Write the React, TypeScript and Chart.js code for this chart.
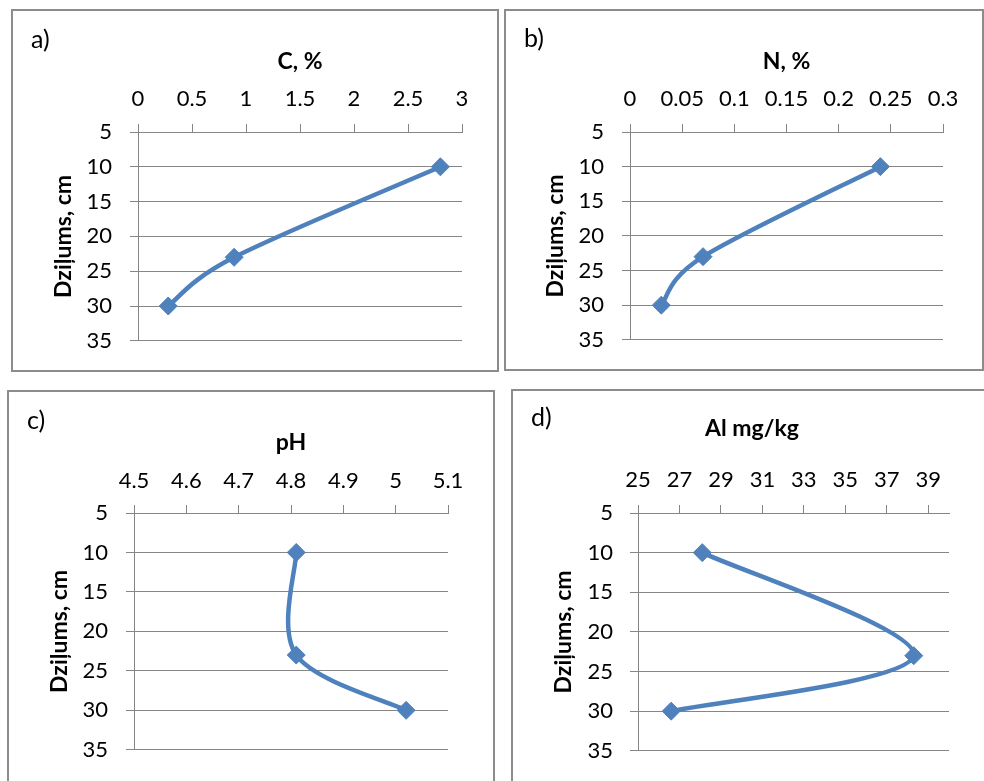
import React, { useEffect, useRef } from "react";
import { Chart, registerables } from "chart.js";

Chart.register(...registerables);

// ---------- data ----------
const depthCm = [10, 23, 30];
const carbonPct = [2.8, 0.89, 0.28];
const nitrogenPct = [0.24, 0.07, 0.03];
const phValues = [4.81, 4.81, 5.02];
const aluminiumMgKg = [28.1, 38.3, 26.6];

const depthTicks = [5, 10, 15, 20, 25, 30, 35];
const carbonTicks = [0, 0.5, 1, 1.5, 2, 2.5, 3];
const nitrogenTicks = [0, 0.05, 0.1, 0.15, 0.2, 0.25, 0.3];
const phTicks = [4.5, 4.6, 4.7, 4.8, 4.9, 5, 5.1];
const aluminiumTicks = [25, 27, 29, 31, 33, 35, 37, 39];

const yTitle = "Dziļums, cm";

// ---------- styles ----------
const BLUE = "#4F81BD";
const GRID = "#868686";
const FONT = "Lato, 'Open Sans', sans-serif";
const SMOOTH = 1 / 6;

// Excel-like smoothing (uniform Catmull-Rom) applied to the control points Chart.js computed
const excelSmooth = {
  id: "excelSmooth",
  beforeDatasetDraw(chart: any, args: any) {
    const meta = args.meta;
    const line = meta.dataset;
    if (!line || !line.updateControlPoints) return;
    line.updateControlPoints(chart.chartArea, meta.iScale ? meta.iScale.axis : "x");
    const pts = meta.data;
    const n = pts.length;
    if (n < 2) return;
    for (let i = 0; i < n; i++) {
      const prev = pts[Math.max(0, i - 1)];
      const next = pts[Math.min(n - 1, i + 1)];
      const p = pts[i];
      const tx = (next.x - prev.x) * SMOOTH;
      const ty = (next.y - prev.y) * SMOOTH;
      p.cp1x = p.x - tx;
      p.cp1y = p.y - ty;
      p.cp2x = p.x + tx;
      p.cp2y = p.y + ty;
    }
  },
};

type PanelCfg = {
  label: string;
  xTitle: string;
  titleInCanvas: boolean;
  values: number[];
  xTicks: number[];
  xMin: number;
  xMax: number;
  box: { left: number; top: number; width: number; height: number };
  canvasH: number;
  yWidth: number;
  xHeight: number;
  padRight: number;
  padBottom: number;
  yTitlePad: number;
  xTitlePad: number;
  xTickPad: number;
  yTickPad: number;
  labelTop: number;
  htmlTitle?: { left: number; top: number; width: number };
};

const panels: PanelCfg[] = [
  {
    label: "a)",
    xTitle: "C, %",
    titleInCanvas: true,
    values: carbonPct,
    xTicks: carbonTicks,
    xMin: 0,
    xMax: 3,
    box: { left: 11, top: 9, width: 488, height: 363 },
    canvasH: 363,
    yWidth: 127,
    xHeight: 123,
    padRight: 37,
    padBottom: 31,
    yTitlePad: 38.5,
    xTitlePad: 38.5,
    xTickPad: 12,
    yTickPad: 18,
    labelTop: 17,
  },
  {
    label: "b)",
    xTitle: "N, %",
    titleInCanvas: true,
    values: nitrogenPct,
    xTicks: nitrogenTicks,
    xMin: 0,
    xMax: 0.3,
    box: { left: 504, top: 9, width: 480, height: 362 },
    canvasH: 362,
    yWidth: 126,
    xHeight: 123,
    padRight: 41,
    padBottom: 30,
    yTitlePad: 37.5,
    xTitlePad: 38.5,
    xTickPad: 12,
    yTickPad: 18,
    labelTop: 15.5,
  },
  {
    label: "c)",
    xTitle: "pH",
    titleInCanvas: true,
    values: phValues,
    xTicks: phTicks,
    xMin: 4.5,
    xMax: 5.1,
    box: { left: 7, top: 390, width: 488, height: 410 },
    canvasH: 391,
    yWidth: 127,
    xHeight: 123,
    padRight: 47,
    padBottom: 26,
    yTitlePad: 38.5,
    xTitlePad: 39,
    xTickPad: 11,
    yTickPad: 18,
    labelTop: 17,
  },
  {
    label: "d)",
    xTitle: "Al mg/kg",
    titleInCanvas: false,
    values: aluminiumMgKg,
    xTicks: aluminiumTicks,
    xMin: 25,
    xMax: 40,
    box: { left: 511, top: 389, width: 490, height: 410 },
    canvasH: 392,
    yWidth: 127,
    xHeight: 124,
    padRight: 35,
    padBottom: 26,
    yTitlePad: 39,
    xTitlePad: 0,
    xTickPad: 12,
    yTickPad: 17,
    labelTop: 14.5,
    htmlTitle: { left: 652, top: 416, width: 200 },
  },
];

function Panel({ cfg }: { cfg: PanelCfg }) {
  const ref = useRef<HTMLCanvasElement | null>(null);
  const canvasW = Math.min(cfg.box.width, 984 - cfg.box.left);

  useEffect(() => {
    if (!ref.current) return;
    const tickFont = { family: FONT, size: 22, weight: "normal" as const };
    const titleFont = { family: FONT, size: 23, weight: "bold" as const };
    const chart = new Chart(ref.current, {
      type: "line",
      data: {
        datasets: [
          {
            data: depthCm.map((d, i) => ({ x: cfg.values[i], y: d })),
            borderColor: BLUE,
            backgroundColor: BLUE,
            borderWidth: 4.5,
            tension: 0.5,
            fill: false,
            pointStyle: "rectRot",
            pointRadius: 9,
            pointBorderWidth: 1,
            pointBackgroundColor: BLUE,
            pointBorderColor: BLUE,
          },
        ],
      },
      plugins: [excelSmooth],
      options: {
        animation: false,
        responsive: false,
        maintainAspectRatio: false,
        layout: {
          padding: { left: 0, top: 0, right: cfg.padRight, bottom: cfg.padBottom },
        },
        plugins: {
          legend: { display: false },
          tooltip: { enabled: false },
          title: { display: false },
        },
        scales: {
          x: {
            type: "linear",
            position: "top",
            min: cfg.xMin,
            max: cfg.xMax,
            afterBuildTicks: (s: any) => {
              s.ticks = cfg.xTicks.map((v) => ({ value: v }));
            },
            afterFit: (s: any) => {
              s.height = cfg.xHeight;
            },
            ticks: {
              font: tickFont,
              color: "#000",
              padding: cfg.xTickPad,
              autoSkip: false,
              maxRotation: 0,
              minRotation: 0,
              callback: (v: any) => String(v),
            },
            grid: {
              drawOnChartArea: false,
              drawTicks: true,
              tickLength: 8,
              color: GRID,
              lineWidth: 1,
            },
            border: { display: true, color: GRID, width: 1 },
            title: {
              display: cfg.titleInCanvas,
              text: cfg.xTitle,
              font: titleFont,
              color: "#000",
              padding: { top: cfg.xTitlePad, bottom: 0 },
            },
          },
          y: {
            type: "linear",
            reverse: true,
            min: 5,
            max: 35,
            afterBuildTicks: (s: any) => {
              s.ticks = depthTicks.map((v) => ({ value: v }));
            },
            afterFit: (s: any) => {
              s.width = cfg.yWidth;
            },
            ticks: {
              font: tickFont,
              color: "#000",
              padding: cfg.yTickPad,
              autoSkip: false,
              callback: (v: any) => String(v),
            },
            grid: {
              drawOnChartArea: true,
              drawTicks: true,
              tickLength: 8,
              color: GRID,
              lineWidth: 1,
            },
            border: { display: true, color: GRID, width: 1 },
            title: {
              display: true,
              text: yTitle,
              font: titleFont,
              color: "#000",
              padding: { top: cfg.yTitlePad, bottom: 0 },
            },
          },
        },
      },
    });
    return () => chart.destroy();
  }, [cfg]);

  return (
    <>
      <div
        style={{
          position: "absolute",
          left: cfg.box.left,
          top: cfg.box.top,
          width: cfg.box.width,
          height: cfg.box.height,
          border: "2px solid #8c8c8c",
          boxSizing: "border-box",
        }}
      />
      <canvas
        ref={ref}
        width={canvasW}
        height={cfg.canvasH}
        style={{
          position: "absolute",
          left: cfg.box.left,
          top: cfg.box.top,
          width: canvasW,
          height: cfg.canvasH,
        }}
      />
      <div
        style={{
          position: "absolute",
          left: cfg.box.left + 20,
          top: cfg.box.top + cfg.labelTop,
          fontFamily: FONT,
          fontSize: 25,
          lineHeight: "25px",
          color: "#000",
          whiteSpace: "nowrap",
        }}
      >
        {cfg.label}
      </div>
      {cfg.htmlTitle && (
        <div
          style={{
            position: "absolute",
            left: cfg.htmlTitle.left,
            top: cfg.htmlTitle.top,
            width: cfg.htmlTitle.width,
            textAlign: "center",
            fontFamily: FONT,
            fontWeight: "bold",
            fontSize: 23,
            lineHeight: "23px",
            color: "#000",
            whiteSpace: "nowrap",
          }}
        >
          {cfg.xTitle}
        </div>
      )}
    </>
  );
}

export default function App() {
  return (
    <div
      style={{
        position: "absolute",
        left: 0,
        top: 0,
        width: 984,
        height: 781,
        overflow: "hidden",
        background: "#fff",
      }}
    >
      {panels.map((p) => (
        <Panel key={p.label} cfg={p} />
      ))}
    </div>
  );
}
